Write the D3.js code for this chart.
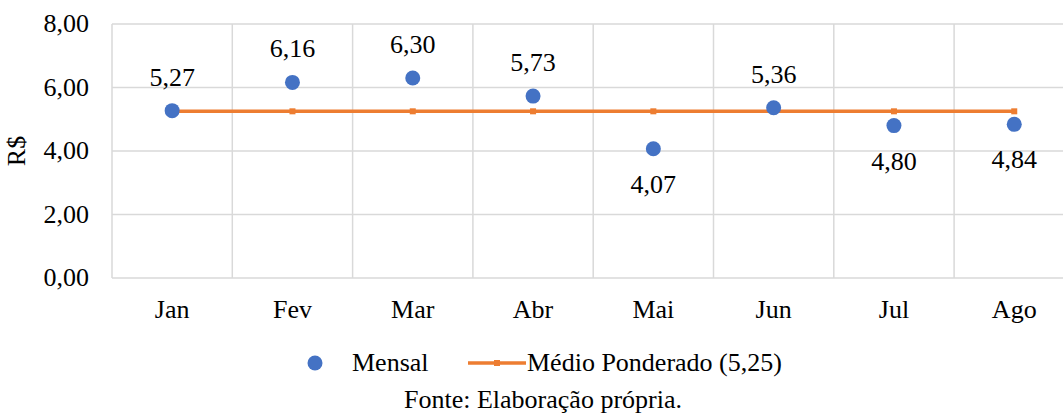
<!DOCTYPE html>
<html>
<head>
<meta charset="utf-8">
<script src="https://cdn.jsdelivr.net/npm/d3@7"></script>
<style>
  html, body { margin: 0; padding: 0; background: #fff; }
  svg { display: block; }
</style>
</head>
<body>
<svg id="chart" width="1063" height="414" font-family="'Liberation Serif', 'Times New Roman', serif"></svg>
<script>
// Monthly price (R$) and the weighted average
const months = ["Jan", "Fev", "Mar", "Abr", "Mai", "Jun", "Jul", "Ago"];
const mensal = [5.27, 6.16, 6.30, 5.73, 4.07, 5.36, 4.80, 4.84];
const labelBelow = [false, false, false, false, true, false, true, true];
const mediaPonderada = 5.25;
const yTicks = [0, 2, 4, 6, 8];
const legendLabels = ["Mensal", "Médio Ponderado (5,25)"];
const caption = "Fonte: Elaboração própria.";

const blue = "#4472C4", orange = "#ED7D31", grid = "#d9d9d9";
const fs = 26;
const fmt = v => d3.format(".2f")(v).replace(".", ",");

const svg = d3.select("#chart");
const plotLeft = 112, plotTop = 24, plotBottom = 278, band = 120.3;
const plotRight = plotLeft + band * months.length;

const x = d3.scaleBand().domain(months).range([plotLeft, plotRight]);
const y = d3.scaleLinear().domain([0, 8]).range([plotBottom, plotTop]);
const cx = m => x(m) + x.bandwidth() / 2;

// Horizontal gridlines
svg.append("g").selectAll("line").data(yTicks).join("line")
  .attr("x1", plotLeft).attr("x2", plotRight)
  .attr("y1", d => y(d)).attr("y2", d => y(d))
  .attr("stroke", grid).attr("stroke-width", 1.5);

// Vertical gridlines at category boundaries
svg.append("g").selectAll("line").data(d3.range(months.length + 1)).join("line")
  .attr("x1", i => plotLeft + i * x.bandwidth()).attr("x2", i => plotLeft + i * x.bandwidth())
  .attr("y1", plotTop).attr("y2", plotBottom)
  .attr("stroke", grid).attr("stroke-width", 1.5);

// Y axis tick labels
svg.append("g").selectAll("text").data(yTicks).join("text")
  .attr("x", 89).attr("y", d => y(d) + 8)
  .attr("text-anchor", "end").attr("font-size", fs)
  .text(d => fmt(d));

// Category labels
svg.append("g").selectAll("text").data(months).join("text")
  .attr("x", d => cx(d)).attr("y", 318)
  .attr("text-anchor", "middle").attr("font-size", fs)
  .text(d => d);

// Y axis title
svg.append("text")
  .attr("transform", "translate(25,151) rotate(-90)")
  .attr("text-anchor", "middle").attr("font-size", fs)
  .text("R$");

// Weighted average line
svg.append("path")
  .datum(months)
  .attr("d", d3.line().x(d => cx(d)).y(() => y(mediaPonderada)))
  .attr("fill", "none").attr("stroke", orange).attr("stroke-width", 3.5);
svg.append("g").selectAll("rect").data(months).join("rect")
  .attr("x", d => cx(d) - 3).attr("y", y(mediaPonderada) - 3)
  .attr("width", 6).attr("height", 6).attr("fill", orange);

// Monthly points
svg.append("g").selectAll("circle").data(months).join("circle")
  .attr("cx", d => cx(d)).attr("cy", (d, i) => y(mensal[i]))
  .attr("r", 7.5).attr("fill", blue);

// Data labels
svg.append("g").selectAll("text").data(months).join("text")
  .attr("x", d => cx(d))
  .attr("y", (d, i) => y(mensal[i]) + (labelBelow[i] ? 44 : -25))
  .attr("text-anchor", "middle").attr("font-size", fs)
  .text((d, i) => fmt(mensal[i]));

// Legend
const ly = 363;
svg.append("circle").attr("cx", 315).attr("cy", ly).attr("r", 7.5).attr("fill", blue);
svg.append("text").attr("x", 352).attr("y", ly + 8).attr("font-size", fs).text(legendLabels[0]);
svg.append("line").attr("x1", 468).attr("x2", 526).attr("y1", ly).attr("y2", ly)
  .attr("stroke", orange).attr("stroke-width", 3.5);
svg.append("rect").attr("x", 494).attr("y", ly - 3).attr("width", 6).attr("height", 6).attr("fill", orange);
svg.append("text").attr("x", 527).attr("y", ly + 8).attr("font-size", fs).text(legendLabels[1]);

// Source note
svg.append("text").attr("x", 543).attr("y", 408).attr("text-anchor", "middle")
  .attr("font-size", fs).text(caption);
</script>
</body>
</html>
